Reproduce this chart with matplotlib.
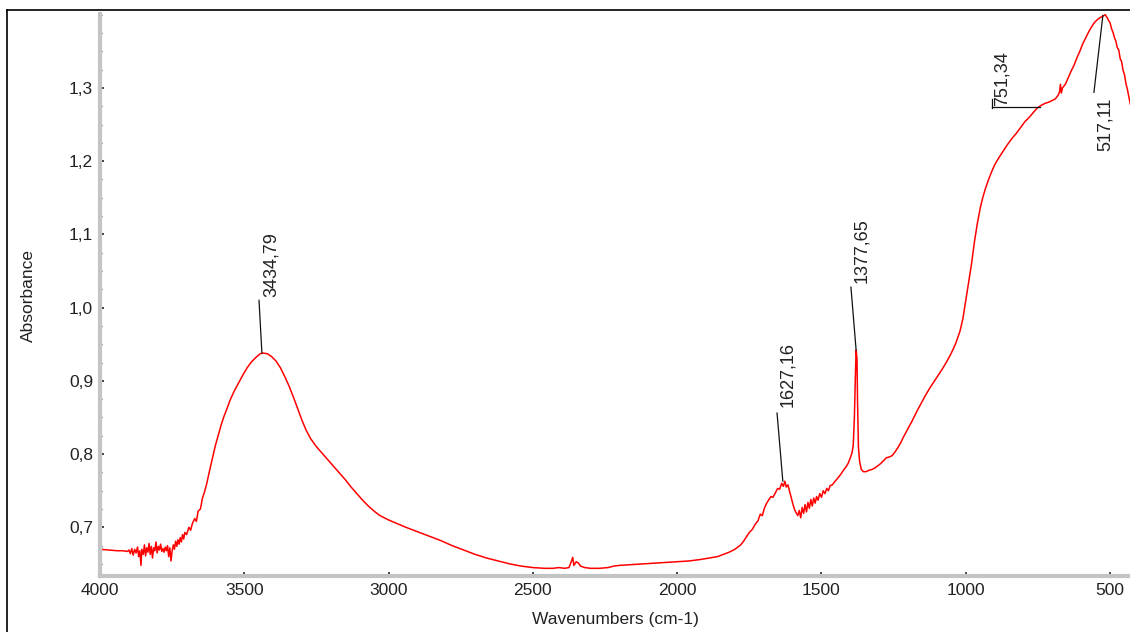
import matplotlib
matplotlib.use('Agg')
import matplotlib.pyplot as plt
from matplotlib.lines import Line2D
from matplotlib.ticker import FixedLocator, FuncFormatter, MultipleLocator

# spectrum (cm-1, absorbance)
wavenumbers = [
    4000, 3970, 3940, 3920, 3905, 3900, 3895, 3890, 3885, 3880, 3875, 3870, 3866, 3862, 3858,
    3855, 3850, 3846, 3842, 3838, 3834, 3830, 3826, 3822, 3818, 3814, 3810, 3806, 3802, 3798,
    3794, 3790, 3786, 3782, 3778, 3774, 3770, 3766, 3762, 3758, 3754, 3750, 3746, 3742, 3738,
    3734, 3730, 3726, 3722, 3718, 3714, 3710, 3706, 3700, 3692, 3686, 3680, 3672, 3666, 3660,
    3652, 3645, 3638, 3630, 3620, 3610, 3600, 3590, 3580, 3570, 3560, 3550, 3535, 3520, 3505,
    3490, 3475, 3460, 3445, 3435, 3420, 3405, 3390, 3375, 3360, 3345, 3330, 3315, 3300, 3285,
    3270, 3250, 3230, 3210, 3190, 3170, 3150, 3130, 3110, 3090, 3070, 3050, 3030, 3000, 2970,
    2940, 2900, 2860, 2820, 2780, 2740, 2700, 2660, 2620, 2580, 2540, 2500, 2460, 2430, 2410,
    2390, 2375, 2368, 2362, 2358, 2350, 2342, 2335, 2320, 2300, 2270, 2240, 2220, 2200, 2160,
    2120, 2080, 2040, 2000, 1960, 1920, 1890, 1860, 1840, 1820, 1800, 1790, 1780, 1770, 1760,
    1750, 1740, 1730, 1720, 1712, 1705, 1698, 1690, 1682, 1675, 1668, 1660, 1652, 1645, 1638,
    1632, 1627, 1622, 1616, 1610, 1605, 1600, 1594, 1588, 1582, 1577, 1572, 1567, 1562, 1557,
    1552, 1547, 1542, 1537, 1532, 1527, 1522, 1517, 1512, 1506, 1500, 1494, 1488, 1482, 1476,
    1470, 1462, 1455, 1448, 1440, 1432, 1424, 1416, 1408, 1400, 1394, 1390, 1386, 1383, 1380,
    1377, 1375, 1372, 1368, 1362, 1355, 1345, 1335, 1325, 1315, 1305, 1295, 1285, 1275, 1265,
    1255, 1245, 1235, 1225, 1215, 1200, 1185, 1170, 1155, 1140, 1125, 1110, 1095, 1080, 1065,
    1050, 1035, 1020, 1010, 1000, 990, 980, 970, 960, 950, 940, 930, 920, 910, 900,
    885, 870, 855, 840, 825, 810, 795, 780, 765, 751, 740, 725, 710, 700, 690,
    680, 675, 672, 669, 665, 655, 645, 635, 625, 615, 605, 595, 585, 575, 565,
    555, 545, 535, 525, 517, 510, 505, 500, 495, 490, 485, 480, 475, 470, 465,
    460, 455, 450, 445, 440, 435, 430,
]
absorbance = [
    0.670, 0.669, 0.668, 0.668, 0.667, 0.669, 0.664, 0.671, 0.662, 0.670, 0.665, 0.673, 0.660, 0.668, 0.648,
    0.670, 0.663, 0.676, 0.661, 0.672, 0.666, 0.678, 0.663, 0.674, 0.658, 0.672, 0.668, 0.680, 0.665, 0.674,
    0.669, 0.677, 0.667, 0.671, 0.666, 0.673, 0.668, 0.675, 0.660, 0.672, 0.654, 0.668, 0.676, 0.670, 0.681,
    0.674, 0.683, 0.677, 0.686, 0.680, 0.690, 0.684, 0.693, 0.690, 0.700, 0.696, 0.705, 0.712, 0.708, 0.722,
    0.725, 0.740, 0.748, 0.760, 0.778, 0.795, 0.812, 0.826, 0.840, 0.852, 0.862, 0.873, 0.886, 0.897, 0.908,
    0.918, 0.926, 0.932, 0.937, 0.938, 0.937, 0.933, 0.927, 0.918, 0.906, 0.893, 0.878, 0.862, 0.846, 0.832,
    0.821, 0.810, 0.801, 0.792, 0.783, 0.774, 0.765, 0.755, 0.746, 0.737, 0.729, 0.722, 0.716, 0.710, 0.705,
    0.700, 0.694, 0.688, 0.682, 0.675, 0.669, 0.663, 0.658, 0.654, 0.650, 0.647, 0.645, 0.644, 0.644, 0.645,
    0.644, 0.645, 0.652, 0.659, 0.648, 0.653, 0.651, 0.647, 0.645, 0.644, 0.644, 0.645, 0.647, 0.648, 0.649,
    0.650, 0.651, 0.652, 0.653, 0.654, 0.656, 0.658, 0.660, 0.663, 0.666, 0.670, 0.673, 0.676, 0.681, 0.687,
    0.693, 0.697, 0.704, 0.709, 0.718, 0.716, 0.726, 0.733, 0.738, 0.742, 0.741, 0.747, 0.753, 0.752, 0.760,
    0.756, 0.763, 0.755, 0.758, 0.748, 0.741, 0.733, 0.725, 0.720, 0.716, 0.723, 0.713, 0.727, 0.719, 0.731,
    0.721, 0.734, 0.726, 0.738, 0.729, 0.740, 0.733, 0.742, 0.737, 0.746, 0.741, 0.750, 0.746, 0.753, 0.750,
    0.757, 0.758, 0.762, 0.765, 0.769, 0.773, 0.778, 0.782, 0.787, 0.795, 0.802, 0.812, 0.850, 0.900, 0.942,
    0.930, 0.870, 0.810, 0.790, 0.779, 0.776, 0.776, 0.778, 0.779, 0.781, 0.784, 0.787, 0.791, 0.795, 0.796,
    0.798, 0.803, 0.809, 0.816, 0.824, 0.835, 0.846, 0.858, 0.869, 0.880, 0.890, 0.899, 0.908, 0.917, 0.927,
    0.938, 0.951, 0.968, 0.985, 1.010, 1.035, 1.060, 1.090, 1.115, 1.136, 1.152, 1.165, 1.176, 1.186, 1.195,
    1.205, 1.214, 1.223, 1.231, 1.238, 1.246, 1.254, 1.260, 1.267, 1.273, 1.276, 1.279, 1.281, 1.283, 1.285,
    1.290, 1.295, 1.305, 1.293, 1.300, 1.305, 1.314, 1.323, 1.331, 1.341, 1.350, 1.360, 1.368, 1.376, 1.383,
    1.389, 1.393, 1.396, 1.398, 1.400, 1.396, 1.392, 1.389, 1.381, 1.376, 1.369, 1.364, 1.355, 1.352, 1.340,
    1.336, 1.324, 1.318, 1.306, 1.298, 1.288, 1.278,
]

y_ticks = [0.7, 0.8, 0.9, 1.0, 1.1, 1.2, 1.3]

# peak labels: text, leader line start (on curve) and end, text anchor
peak_labels = ['3434,79', '1627,16', '1377,65', '517,11']
peak_line_from = [(3439, 0.938), (1634, 0.763), (1380, 0.942), (525, 1.399)]
peak_line_to = [(3449, 1.010), (1654, 0.856), (1398, 1.028), (556, 1.294)]
peak_text_at = [(3407, 1.014), (1616, 0.864), (1360, 1.033), (518, 1.287)]

SPINE_GREY = '#c4c4c4'
TEXT_COLOR = '#222222'


def comma_fmt(decimals):
    return FuncFormatter(lambda v, _: f'{v:.{decimals}f}'.replace('.', ','))


def main():
    plt.rcParams['font.family'] = ['Liberation Sans', 'DejaVu Sans']

    fig = plt.figure(figsize=(11.3, 6.32), dpi=100)
    ax = fig.add_axes([100 / 1130, 1 - 576 / 632, 1030 / 1130, (576 - 14) / 632])

    ax.plot(wavenumbers, absorbance, color='red', lw=1.1)

    ax.set_xlim(4000, 431)
    ax.set_ylim(0.6335, 1.401)

    for side in ['top', 'right']:
        ax.spines[side].set_visible(False)
    for side in ['left', 'bottom']:
        ax.spines[side].set_color(SPINE_GREY)
        ax.spines[side].set_linewidth(3)

    ax.xaxis.set_major_locator(MultipleLocator(500))
    ax.xaxis.set_minor_locator(MultipleLocator(100))
    ax.yaxis.set_major_locator(FixedLocator(y_ticks))
    ax.yaxis.set_minor_locator(MultipleLocator(0.025))
    ax.yaxis.set_major_formatter(comma_fmt(1))

    ax.tick_params(which='major', direction='in', length=3, width=1.2, color='#222222',
                   labelsize=12.5, labelcolor=TEXT_COLOR, pad=5)
    ax.tick_params(which='minor', direction='in', length=1.5, width=1, color='#444444')

    ax.set_xlabel('Wavenumbers (cm-1)', fontsize=12.5, color=TEXT_COLOR, labelpad=10)
    ax.set_ylabel('Absorbance', fontsize=12.5, color=TEXT_COLOR, labelpad=24)

    # peak annotations
    for label, p0, p1, t in zip(peak_labels, peak_line_from, peak_line_to, peak_text_at):
        ax.plot([p0[0], p1[0]], [p0[1], p1[1]], color='#111111', lw=0.9)
        va = 'top' if t[1] < p0[1] else 'bottom'
        ax.text(t[0], t[1], label, rotation=90, ha='center', va=va,
                fontsize=13, color=TEXT_COLOR)

    # shoulder at 751,34 has a bent leader
    ax.plot([743, 909], [1.274, 1.274], color='#111111', lw=0.9)
    ax.plot([909, 909], [1.272, 1.285], color='#111111', lw=0.9)
    ax.text(875, 1.276, '751,34', rotation=90, ha='center', va='bottom',
            fontsize=13, color=TEXT_COLOR)

    # outer frame (only top and left edges are visible in the crop)
    fig.add_artist(Line2D([7 / 1130, 1.0], [1 - 10 / 632, 1 - 10 / 632],
                          color='black', lw=1.2, transform=fig.transFigure))
    fig.add_artist(Line2D([7 / 1130, 7 / 1130], [0, 1 - 10 / 632],
                          color='black', lw=1.2, transform=fig.transFigure))

    fig.savefig('out.png', dpi=100)


if __name__ == '__main__':
    main()
